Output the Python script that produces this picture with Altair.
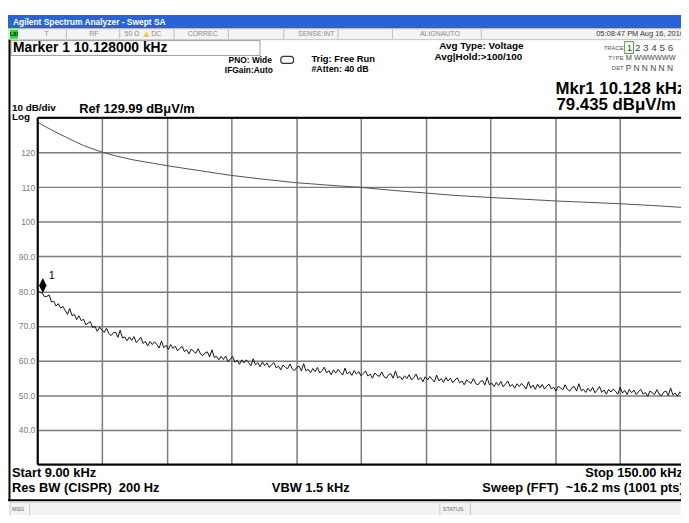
import altair as alt
import numpy as np
import pandas as pd

# ------------------------------------------------------------------ data
# lower trace (measured emission), sweep points every 0.5 kHz, 9 .. 150 kHz
LOWER_FREQ_KHZ = [float(f) for f in np.arange(9.0, 150.01, 0.5)]
LOWER_DBUV = [
    80.3, 79.6, 79.5, 78.4, 78.5, 78.9, 76.9, 77.1, 75.7, 76.4,
    75.1, 75.6, 74.5, 73.3, 75.0, 72.9, 73.3, 71.8, 72.9, 71.5,
    71.9, 70.3, 70.8, 71.2, 69.5, 69.8, 68.4, 69.6, 68.8, 68.1,
    69.3, 67.8, 67.2, 68.0, 68.2, 66.7, 68.7, 66.5, 66.8, 65.7,
    66.8, 65.8, 66.9, 65.2, 65.8, 66.7, 64.9, 65.5, 64.2, 65.5,
    64.6, 65.4, 64.6, 63.6, 65.6, 63.7, 64.4, 63.2, 64.6, 63.5,
    64.1, 62.8, 63.5, 64.1, 62.6, 63.1, 61.9, 63.3, 62.6, 62.1,
    63.4, 61.9, 61.4, 62.2, 62.5, 61.0, 63.1, 60.9, 61.2, 60.2,
    61.2, 60.3, 61.3, 59.7, 60.4, 61.2, 59.5, 60.1, 58.9, 60.2,
    59.3, 60.2, 59.4, 58.5, 60.5, 58.7, 59.4, 58.2, 59.6, 58.5,
    59.3, 58.0, 58.8, 59.4, 57.9, 58.4, 57.3, 58.7, 58.1, 57.6,
    59.0, 57.6, 57.1, 58.0, 58.4, 57.0, 59.1, 57.0, 57.5, 56.5,
    57.7, 56.8, 58.0, 56.4, 57.1, 58.1, 56.4, 57.1, 55.9, 57.3,
    56.4, 57.4, 56.6, 55.8, 57.8, 56.1, 56.8, 55.7, 57.1, 56.1,
    56.8, 55.6, 56.3, 57.0, 55.5, 56.1, 54.9, 56.4, 55.8, 55.4,
    56.7, 55.4, 54.9, 55.9, 56.2, 54.9, 57.0, 55.0, 55.4, 54.5,
    55.6, 54.8, 55.9, 54.4, 55.1, 56.1, 54.4, 55.1, 53.9, 55.3,
    54.4, 55.4, 54.6, 53.8, 55.8, 54.1, 54.8, 53.7, 55.1, 54.1,
    54.9, 53.6, 54.4, 55.0, 53.6, 54.1, 53.0, 54.4, 53.9, 53.4,
    54.8, 53.4, 53.0, 53.9, 54.3, 52.9, 55.1, 53.0, 53.5, 52.5,
    53.7, 52.8, 54.0, 52.4, 53.2, 54.1, 52.5, 53.1, 52.0, 53.3,
    52.5, 53.4, 52.7, 51.8, 53.9, 52.1, 52.9, 51.7, 53.2, 52.1,
    53.1, 51.8, 52.6, 53.2, 51.8, 52.3, 51.2, 52.6, 52.1, 51.6,
    53.0, 51.7, 51.2, 52.2, 52.5, 51.2, 53.3, 51.3, 51.7, 50.8,
    52.0, 51.1, 52.3, 50.7, 51.5, 52.5, 50.8, 51.5, 50.3, 51.7,
    50.9, 51.8, 51.1, 50.3, 52.3, 50.6, 51.4, 50.2, 51.7, 50.7,
    51.5, 50.2, 51.0, 51.7, 50.3, 50.8, 49.7, 51.2, 50.7, 50.2,
    51.6, 50.3, 49.9, 50.9, 51.2, 49.9, 52.1, 50.1, 50.6, 49.7,
    50.9, 50.3, 50.8,
]

# upper trace (limit line)
UPPER_FREQ_KHZ = [9, 11, 13, 15, 17, 19, 21, 23, 26, 30, 34, 38, 44, 51, 58, 65,
                  72, 79.5, 86, 93.5, 100, 107.7, 115, 122, 129, 136, 143, 150]
UPPER_DBUV = [128.7, 127.2, 125.8, 124.5, 123.2, 122.0, 121.0, 120.1, 119.0, 117.8,
              116.9, 116.0, 114.8, 113.4, 112.3, 111.3, 110.6, 109.9, 109.1, 108.3,
              107.6, 107.0, 106.5, 106.0, 105.6, 105.2, 104.7, 104.1]

MARKER_FREQ_KHZ = [10.128]
MARKER_DBUV = [79.435]
MARKER_LABEL = ["1"]

X_GRID_KHZ = [9.0, 23.1, 37.2, 51.3, 65.4, 79.5, 93.6, 107.7, 121.8, 135.9]
Y_GRID_DB = [30, 40, 50, 60, 70, 80, 90, 100, 110, 120, 130]

# ------------------------------------------------------------------ layout
PX0, PY0 = 38, 116          # plot origin in window pixels
W, H = 651, 351
X_MAX = 9 + W * 14.1 / 65.44
FONT = "Liberation Sans"
NB = "\u00a0"

traces = pd.concat([
    pd.DataFrame({"f": UPPER_FREQ_KHZ, "v": UPPER_DBUV, "s": "limit"}),
    pd.DataFrame({"f": LOWER_FREQ_KHZ, "v": LOWER_DBUV, "s": "meas"}),
])
marker = pd.DataFrame({"f": MARKER_FREQ_KHZ, "v": MARKER_DBUV, "t": MARKER_LABEL})

X_ENC = alt.X("f:Q", scale=alt.Scale(domain=[9, X_MAX], nice=False, zero=False),
              axis=alt.Axis(values=X_GRID_KHZ, labels=False, ticks=False, domain=False,
                            title=None, grid=True, gridColor="#7c7c7c", gridWidth=1.5))
Y_ENC = alt.Y("v:Q", scale=alt.Scale(domain=[30, 130], nice=False, zero=False),
              axis=alt.Axis(values=Y_GRID_DB, ticks=False, domain=False, title=None,
                            grid=True, gridColor="#7c7c7c", gridWidth=1.5,
                            labelExpr="(datum.value == 30 || datum.value == 130) ? '' : "
                                      "(datum.value >= 100 ? format(datum.value, 'd') : format(datum.value, '.1f'))",
                            labelColor="#7a7a7a", labelFontSize=8.5, labelFont=FONT,
                            labelPadding=3))

ONE = alt.Data(values=[{"k": 0}])


def txt(s, xr, yr, size=9, weight="bold", align="left", color="black"):
    return alt.Chart(ONE).mark_text(
        text=s, align=align, baseline="middle", fontSize=size, fontWeight=weight,
        color=color, fill=color, font=FONT
    ).encode(x=alt.value(xr - PX0), y=alt.value(yr - PY0))


def box(x1, y1, x2, y2, fill, stroke=None, sw=1, radius=0):
    kw = dict(fill=fill, strokeWidth=sw)
    if stroke:
        kw["stroke"] = stroke
    if radius:
        kw["cornerRadius"] = radius
    return alt.Chart(ONE).mark_rect(**kw).encode(
        x=alt.value(x1 - PX0), x2=alt.value(x2 - PX0),
        y=alt.value(y1 - PY0), y2=alt.value(y2 - PY0))


def line(x1, y1, x2, y2, color="black", sw=1):
    return alt.Chart(ONE).mark_rule(color=color, strokeWidth=sw).encode(
        x=alt.value(x1 - PX0), x2=alt.value(x2 - PX0),
        y=alt.value(y1 - PY0), y2=alt.value(y2 - PY0))


layers = []
# window chrome
layers.append(box(8, 12, 690, 26, "#2963d8"))
layers.append(txt("Agilent Spectrum Analyzer - Swept SA", 13, 19, size=8.5, color="white"))
layers.append(box(8, 26, 690, 37, "#f4f4f4", stroke="#c4c4c4"))
for sx in [67, 121, 176, 231, 287, 342, 397, 487]:
    layers.append(line(sx, 27, sx, 36, color="#bdbdbd"))
layers.append(box(10, 27, 18, 36, "#22dd22"))
layers.append(txt("LXI", 14, 31.5, size=5, align="center"))
GRAY = "#8a8a8a"
layers.append(txt("T", 47, 31.5, size=7, weight="normal", align="center", color=GRAY))
layers.append(txt("RF", 95, 31.5, size=7, weight="normal", align="center", color=GRAY))
layers.append(txt("50 Ω", 126, 31.5, size=7, weight="normal", color=GRAY))
layers.append(alt.Chart(ONE).mark_point(shape="triangle-up", size=45, filled=True,
                                         color="#e6c200").encode(
    x=alt.value(148 - PX0), y=alt.value(31.5 - PY0)))
layers.append(txt("DC", 153, 31.5, size=7, weight="normal", color=GRAY))
layers.append(txt("CORREC", 205, 31.5, size=7, weight="normal", align="center", color=GRAY))
layers.append(txt("SENSE:INT", 320, 31.5, size=7, weight="normal", align="center", color=GRAY))
layers.append(txt("ALIGNAUTO", 445, 31.5, size=7, weight="normal", align="center", color=GRAY))
layers.append(txt("05:08:47 PM Aug 16, 2016", 692, 31.5, size=7.5, weight="normal",
                  align="right", color="#333333"))

layers.append(box(11, 38, 263, 53, "white", stroke="#9a9a9a"))
layers.append(txt("Marker 1 10.128000 kHz", 13, 46, size=14))
layers.append(txt("PNO: Wide", 275, 58, size=8.5, align="right"))
layers.append(txt("IFGain:Auto", 276, 68, size=8.5, align="right"))
layers.append(box(284, 54, 297, 61, "white", stroke="#333333", sw=1.2, radius=3))
layers.append(txt("Trig: Free Run", 315, 57, size=9.5))
layers.append(txt("#Atten: 40 dB", 315, 67, size=9))
layers.append(txt("Avg Type: Voltage", 487, 43, size=10, align="center"))
layers.append(txt("Avg|Hold:>100/100", 484, 55, size=10, align="center"))

layers.append(txt("TRACE", 631, 45, size=6, weight="normal", align="right", color="#555555"))
layers.append(box(632, 39, 641, 51, "white", stroke="#33aa33"))
layers.append(txt("1 2 3 4 5 6", 634, 45, size=10, weight="normal", color="#444444"))
layers.append(txt("TYPE", 631, 56, size=6, weight="normal", align="right", color="#555555"))
layers.append(txt("M WWWWWW", 633, 56, size=7.5, weight="normal", color="#444444"))
layers.append(txt("DET", 631, 66, size=6, weight="normal", align="right", color="#555555"))
layers.append(txt("P N N N N N", 633, 66, size=8.5, weight="normal", color="#444444"))

layers.append(txt("Mkr1 10.128 kHz", 562, 87, size=17, weight="bold"))
layers.append(txt("79.435 dBμV/m", 563, 103, size=17, weight="bold"))

layers.append(txt("10 dB/div", 12, 106, size=10))
layers.append(txt("Log", 12, 115.5, size=10))
layers.append(txt("Ref 129.99 dBμV/m", 80, 107, size=13))

# display frame
layers.append(line(9.5, 37, 9.5, 503, color="black", sw=2))
layers.append(line(8, 503, 690, 503, color="black", sw=2))

# traces
layers.append(alt.Chart(traces).mark_line(strokeWidth=1, clip=True).encode(
    x=X_ENC, y=Y_ENC,
    color=alt.Color("s:N", scale=alt.Scale(domain=["limit", "meas"],
                                           range=["#505050", "#111111"]), legend=None)))
# marker
layers.append(alt.Chart(marker).mark_point(
    shape="M0,-2L0.5,-1L0,0L-0.5,-1Z", size=230, filled=True, color="black", opacity=1
).encode(x=X_ENC, y=Y_ENC))
layers.append(alt.Chart(marker).mark_text(
    dx=9, dy=-17, fontSize=11, font=FONT, align="center", baseline="middle", fill="black"
).encode(x=X_ENC, y=Y_ENC, text="t:N", color=alt.value("black")))

# plot borders
layers.append(line(PX0, PY0, PX0, PY0 + H, color="black", sw=2))
layers.append(line(PX0, PY0, 690, PY0, color="black", sw=2))
layers.append(line(PX0, PY0 + H, 690, PY0 + H, color="black", sw=2))

# bottom annotation
layers.append(txt("Start 9.00 kHz", 12, 476, size=13))
layers.append(txt("Stop 150.00 kHz", 592, 476, size=13))
layers.append(txt("Res BW (CISPR)" + NB + NB + "200 Hz", 12, 491, size=13))
layers.append(txt("VBW 1.5 kHz", 275, 491, size=13))
layers.append(txt("Sweep (FFT)" + NB + NB + "~16.2 ms (1001 pts)", 488, 491, size=13))

# message row
layers.append(box(10, 505, 690, 522, "#f3f3f3", stroke="#c8c8c8"))
layers.append(line(30, 506, 30, 521, color="#c8c8c8"))
layers.append(line(445, 506, 445, 521, color="#c8c8c8"))
layers.append(line(476, 506, 476, 521, color="#c8c8c8"))
layers.append(txt("MSG", 12, 512, size=5.5, weight="normal", color="#666666"))
layers.append(txt("STATUS", 448, 512, size=5.5, weight="normal", color="#666666"))

chart = alt.layer(*layers).properties(
    width=W, height=H,
    padding={"left": PX0 - 8, "top": PY0 - 8, "right": 0, "bottom": 507 - (PY0 - 8) - H},
    autosize=alt.AutoSizeParams(type="none"),
    background="white",
).configure_view(stroke=None)

chart.save("out.html", embed_options={"renderer": "svg", "actions": False})
